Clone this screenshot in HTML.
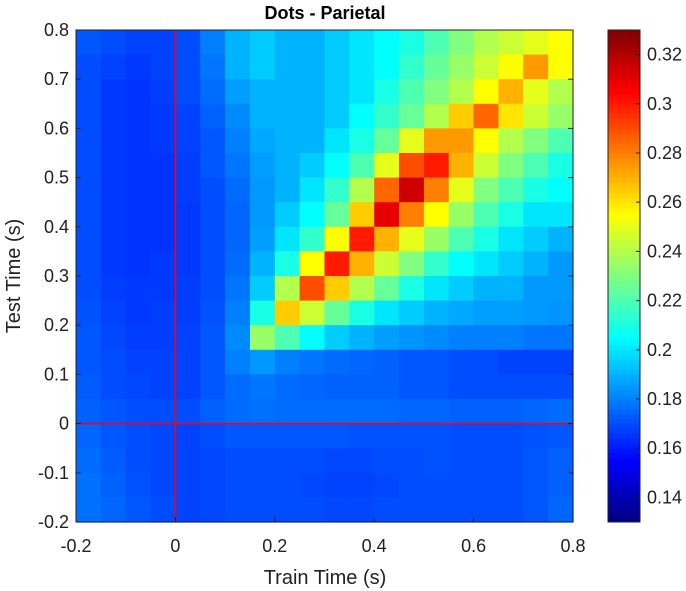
<!DOCTYPE html>
<html><head><meta charset="utf-8"><style>
body{margin:0;background:#fff;}
svg{display:block;font-family:"Liberation Sans",Arial,sans-serif;}
</style></head><body>
<svg id="chart" width="686" height="591">
<text x="325" y="19" text-anchor="middle" font-size="18" font-weight="bold">Dots - Parietal</text>
<g id="cells"></g>
<g id="cbar"></g>
<g id="axes"></g>
<text x="325" y="584" text-anchor="middle" font-size="20" fill="#222">Train Time (s)</text>
<text transform="translate(20,276) rotate(-90)" text-anchor="middle" font-size="20" fill="#222">Test Time (s)</text>
</svg>
<script>
const trainTimes=[-0.2,-0.15,-0.1,-0.05,0,0.05,0.1,0.15,0.2,0.25,0.3,0.35,0.4,0.45,0.5,0.55,0.6,0.65,0.7,0.75];
const testTimes=[0.75,0.7,0.65,0.6,0.55,0.5,0.45,0.4,0.35,0.3,0.25,0.2,0.15,0.1,0.05,0,-0.05,-0.1,-0.15,-0.2];
const accuracy=[
[.172,.17,.168,.168,.17,.18,.19,.195,.19,.19,.195,.2,.205,.21,.22,.23,.24,.245,.25,.255],
[.17,.168,.166,.168,.17,.178,.19,.195,.19,.19,.195,.2,.205,.215,.225,.235,.245,.255,.275,.255],
[.17,.166,.165,.167,.17,.176,.186,.19,.19,.19,.195,.2,.21,.22,.23,.24,.255,.27,.25,.24],
[.17,.166,.165,.166,.168,.174,.182,.19,.19,.19,.195,.205,.215,.225,.24,.265,.285,.26,.245,.235],
[.17,.166,.165,.166,.168,.172,.18,.188,.19,.19,.2,.21,.225,.25,.275,.275,.255,.24,.23,.22],
[.17,.166,.165,.165,.167,.172,.178,.186,.19,.195,.205,.22,.25,.29,.3,.27,.245,.23,.22,.21],
[.17,.166,.165,.165,.167,.17,.176,.185,.19,.2,.215,.24,.285,.315,.28,.25,.23,.22,.21,.205],
[.17,.166,.165,.165,.166,.17,.175,.185,.195,.205,.225,.265,.31,.28,.255,.235,.22,.21,.2,.2],
[.17,.166,.165,.165,.166,.17,.175,.186,.2,.215,.255,.3,.27,.25,.235,.22,.21,.2,.195,.19],
[.17,.166,.165,.166,.166,.17,.176,.19,.21,.255,.3,.27,.245,.23,.215,.205,.2,.195,.19,.185],
[.17,.167,.166,.166,.167,.17,.178,.195,.24,.29,.265,.24,.225,.21,.2,.195,.19,.19,.185,.185],
[.171,.168,.166,.167,.167,.171,.18,.21,.265,.245,.225,.21,.2,.195,.19,.188,.186,.186,.185,.184],
[.172,.169,.167,.167,.168,.172,.182,.235,.22,.205,.195,.19,.186,.184,.182,.18,.18,.18,.178,.178],
[.172,.17,.168,.168,.168,.172,.18,.185,.18,.178,.176,.175,.174,.172,.172,.17,.17,.168,.168,.168],
[.173,.17,.169,.168,.168,.172,.176,.178,.176,.175,.174,.174,.174,.172,.172,.17,.17,.17,.17,.17],
[.174,.172,.17,.17,.17,.174,.176,.177,.176,.176,.176,.176,.176,.175,.175,.174,.174,.174,.175,.176],
[.175,.172,.17,.169,.168,.17,.172,.172,.172,.172,.172,.171,.171,.171,.171,.17,.17,.17,.171,.172],
[.176,.173,.17,.169,.168,.169,.17,.17,.17,.17,.169,.169,.17,.17,.171,.17,.17,.17,.172,.174],
[.177,.174,.171,.169,.168,.169,.17,.17,.17,.169,.168,.168,.169,.17,.17,.17,.17,.17,.172,.174],
[.177,.175,.172,.17,.168,.169,.17,.17,.17,.17,.169,.169,.17,.17,.17,.17,.17,.17,.172,.175]];
const xTicks=[-0.2,0,0.2,0.4,0.6,0.8];
const yTicks=[-0.2,-0.1,0,0.1,0.2,0.3,0.4,0.5,0.6,0.7,0.8];
const cTicks=[0.14,0.16,0.18,0.2,0.22,0.24,0.26,0.28,0.3,0.32];
const cMin=0.13,cMax=0.33,step=0.05;

const NS="http://www.w3.org/2000/svg";
const L=76,R=573,T=30,B=522,CL=608,CR=640;
const xs=v=>L+(v+0.2)/1.0*(R-L);
const ys=v=>B-(v+0.2)/1.0*(B-T);
const cs=v=>B-(v-cMin)/(cMax-cMin)*(B-T);
function jet(v){let t=Math.max(0,Math.min(1,(v-cMin)/(cMax-cMin)));
 const f=x=>Math.round(255*Math.max(0,Math.min(1,1.5-Math.abs(x))));
 return `rgb(${f(4*t-3)},${f(4*t-2)},${f(4*t-1)})`;}
function mk(tag,attrs,parent){const e=document.createElementNS(NS,tag);for(const k in attrs)e.setAttribute(k,attrs[k]);parent.appendChild(e);return e;}
const cells=document.getElementById('cells');
testTimes.forEach((ty,i)=>trainTimes.forEach((tx,j)=>{
 const x0=xs(tx),x1=xs(tx+step),y0=ys(ty+step),y1=ys(ty);
 const r=mk('rect',{x:x0,y:y0,width:x1-x0+0.6,height:y1-y0+0.6,fill:jet(accuracy[i][j])},cells);
 
 
}));
const axes=document.getElementById('axes');
let l1=mk('line',{x1:xs(0),x2:xs(0),y1:T,y2:B,stroke:'#f00',"stroke-width":1.5},axes);


let l2=mk('line',{x1:L,x2:R,y1:ys(0),y2:ys(0),stroke:'#f00',"stroke-width":1.5},axes);


let fr=mk('rect',{x:L,y:T,width:R-L,height:B-T,fill:'none',stroke:'#222',"stroke-width":1},axes);


xTicks.forEach(v=>{mk('line',{x1:xs(v),x2:xs(v),y1:B,y2:B-5,stroke:'#222'},axes);
 const t=mk('text',{x:xs(v),y:B+30,"text-anchor":"middle","font-size":18,fill:'#222'},axes);t.textContent=String(v);
 
 });
yTicks.forEach(v=>{mk('line',{x1:L,x2:L+5,y1:ys(v),y2:ys(v),stroke:'#222'},axes);
 mk('line',{x1:R,x2:R-5,y1:ys(v),y2:ys(v),stroke:'#222'},axes);
 const t=mk('text',{x:L-7,y:ys(v)+6,"text-anchor":"end","font-size":18,fill:'#222'},axes);t.textContent=String(v);
 
 });
const cb=document.getElementById('cbar');
const n=100;
for(let k=0;k<n;k++){const v0=cMin+(cMax-cMin)*k/n,v1=cMin+(cMax-cMin)*(k+1)/n;
 const r=mk('rect',{x:CL,y:cs(v1),width:CR-CL,height:cs(v0)-cs(v1)+0.5,fill:jet((v0+v1)/2)},cb);
 
 }
mk('rect',{x:CL,y:T,width:CR-CL,height:B-T,fill:'none',stroke:'#222'},cb);
cTicks.forEach(v=>{mk('line',{x1:CR,x2:CR-4,y1:cs(v),y2:cs(v),stroke:'#222'},cb);
 const t=mk('text',{x:CR+7,y:cs(v)+6,"font-size":18,fill:'#222'},cb);t.textContent=String(v);
 
 });
</script>
</body></html>
